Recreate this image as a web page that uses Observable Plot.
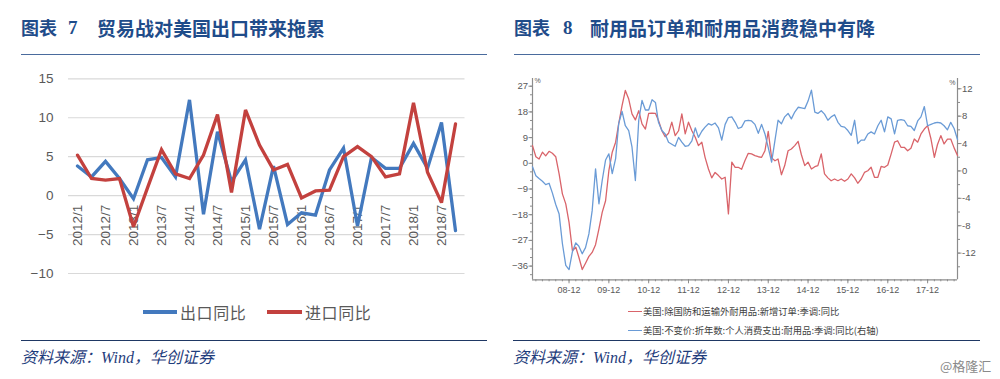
<!DOCTYPE html>
<html>
<head>
<meta charset="utf-8">
<script src="https://cdn.jsdelivr.net/npm/d3@7"></script>
<script src="https://cdn.jsdelivr.net/npm/@observablehq/plot@0.6"></script>
<style>
  body { margin: 0; background: #ffffff; }
  #page { position: relative; width: 1000px; height: 379px; overflow: hidden; background: #fff;
          font-family: "Noto Sans CJK SC", "Noto Sans", sans-serif; }
  .abs { position: absolute; white-space: nowrap; }
  .tfig { font-size: 18px; line-height: 1; font-weight: 700; color: #1f4c8a; }
  .tnum { font-family: "Liberation Serif", serif; font-size: 19px; line-height: 1; font-weight: 700; color: #1f4c8a; }
  .tmain { font-size: 19px; line-height: 1; font-weight: 700; color: #1f4c8a; }
  .trule { height: 1px; background: #4a6b9d; }
  .frule { height: 1px; background: #1f3864; }
  .foot { font-size: 16px; line-height: 20px; font-style: italic; color: #1f3d7c; }
  .foot .w { font-family: "Liberation Serif", serif; }
  .lgL { font-size: 16px; line-height: 20px; color: #595959; letter-spacing: 0.6px; }
  .lgR { font-size: 9.3px; line-height: 12px; color: #404040; }
  .wm { font-size: 13px; line-height: 16px; color: #8a8a8a; }
</style>
</head>
<body>
<div id="page">
  <!-- left panel header -->
  <div class="abs tfig" style="left:21px;top:18px">图表</div>
  <div class="abs tnum" style="left:68px;top:18px">7</div>
  <div class="abs tmain" style="left:97px;top:18px">贸易战对美国出口带来拖累</div>
  <div class="abs trule" style="left:21px;top:54px;width:466px"></div>
  <div id="leftChart" class="abs" style="left:0px;top:60px"></div>
  <div class="abs" style="left:143px;top:310px;width:34px;height:3.5px;background:#4379be"></div>
  <div class="abs lgL" style="left:180px;top:302px">出口同比</div>
  <div class="abs" style="left:267px;top:310px;width:35px;height:3.5px;background:#c3413e"></div>
  <div class="abs lgL" style="left:305px;top:302px">进口同比</div>
  <div class="abs frule" style="left:21px;top:340px;width:466px"></div>
  <div class="abs foot" style="left:21px;top:346px">资料来源：<span class="w">Wind</span>，华创证券</div>

  <!-- right panel header -->
  <div class="abs tfig" style="left:514px;top:18px">图表</div>
  <div class="abs tnum" style="left:563px;top:18px">8</div>
  <div class="abs tmain" style="left:590px;top:18px">耐用品订单和耐用品消费稳中有降</div>
  <div class="abs trule" style="left:514px;top:54px;width:466px"></div>
  <div id="rightChart" class="abs" style="left:500px;top:60px"></div>
  <div class="abs" style="left:628px;top:310.5px;width:14px;height:1.2px;background:#d9646a"></div>
  <div class="abs lgR" style="left:643px;top:305px">美国:除国防和运输外耐用品:新增订单:季调:同比</div>
  <div class="abs" style="left:628px;top:329.5px;width:14px;height:1.2px;background:#6a9bd6"></div>
  <div class="abs lgR" style="left:643px;top:324px">美国:不变价:折年数:个人消费支出:耐用品:季调:同比(右轴)</div>
  <div class="abs frule" style="left:513px;top:340px;width:467px"></div>
  <div class="abs foot" style="left:513px;top:346px">资料来源：<span class="w">Wind</span>，华创证券</div>
  <div class="abs wm" style="left:940px;top:358px">@格隆汇</div>
</div>
<script>
// ---------- Left chart data (quarterly, % annualized) ----------
const quarters = ["2012/1","2012/4","2012/7","2012/10","2013/1","2013/4","2013/7","2013/10",
  "2014/1","2014/4","2014/7","2014/10","2015/1","2015/4","2015/7","2015/10",
  "2016/1","2016/4","2016/7","2016/10","2017/1","2017/4","2017/7","2017/10",
  "2018/1","2018/4","2018/7","2018/10"];
const exportsYoY = [3.8, 2.4, 4.4, 2.2, -0.4, 4.6, 4.9, 2.4, 12.3, -2.4, 8.2, 1.8, 4.6, -4.3,
  3.8, -3.7, -2.2, -2.5, 3.3, 6.1, -3.9, 4.9, 3.5, 3.5, 6.7, 3.5, 9.4, -4.5];
const importsYoY = [5.2, 2.2, 2.0, 2.2, -4.0, 1.0, 5.9, 2.8, 2.2, 5.2, 10.4, 0.4, 11.0, 6.5,
  3.3, 4.0, -0.3, 0.6, 0.7, 5.0, 6.3, 5.0, 2.4, 2.8, 11.9, 3.0, -0.9, 9.2];
const leftXTickLabels = ["2012/1","2012/7","2013/1","2013/7","2014/1","2014/7","2015/1",
  "2015/7","2016/1","2016/7","2017/1","2017/7","2018/1","2018/7"];
const leftYTicks = [-10, -5, 0, 5, 10, 15];

// ---------- Right chart data (monthly from 2008-01) ----------
const rightStart = [2008, 0];
const ordersYoY = [6.2, 2.3, 1.5, 3.9, 2.6, 4.2, 3.5, 2.3, -3.7, -10.7, -14.2, -20.7,
  -30.6, -29.4, -32.9, -37.2, -35.0, -32.6, -31.2, -28.5, -23.0, -17.2, -13.1, -2.6,
  3.9, 7.4, 13.8, 20.2, 25.5, 22.5, 17.3, 15.2, 18.4, 13.8, 12.0, 17.5,
  17.6, 17.5, 15.0, 11.4, 9.3, 10.5, 14.4, 9.7, 11.4, 17.3, 10.3, 14.4,
  11.4, 9.1, 6.2, 7.4, 2.1, -2.0, -5.1, -3.2, -4.3, -5.5, -4.9, -17.7,
  0.4, -1.4, -1.4, -2.1, 0.9, 3.5, 3.3, 2.7, 2.3, 2.1, 4.4, 11.2,
  1.9, 0.9, 1.5, -4.0, -0.8, 4.4, 5.0, 6.2, 7.7, 3.0, -0.8, 0.4,
  -2.0, -1.2, -0.8, 3.3, -3.7, -5.1, -6.1, -5.5, -6.1, -5.5, -6.3, -5.5,
  -3.7, -5.1, -7.0, -5.5, -3.2, -2.6, -1.4, -4.9, -4.9, -1.1, -1.4, -0.6,
  3.3, 7.4, 7.9, 5.6, 5.6, 4.4, 5.3, 8.5, 7.4, 10.3, 12.0, 13.2,
  8.5, 2.1, 6.5, 9.7, 6.8, 8.5, 8.5, 5.4, 2.7];
const pceDurablesYoY = [0.6, -0.7, -1.1, -1.5, -2.0, -1.8, -3.2, -4.9, -6.3, -10.6, -13.8, -14.4,
  -11.8, -10.5, -11.0, -12.1, -11.2, -9.2, -5.8, 0.3, -4.8, -1.4, 1.6, 2.5,
  -0.4, 1.8, 6.9, 8.7, 6.6, 5.9, 3.5, -1.4, 7.4, 10.3, 8.9, 8.9,
  10.4, 10.0, 7.1, 5.9, 5.4, 4.2, 3.9, 3.6, 4.9, 4.2, 3.6, 3.7,
  4.4, 6.3, 4.9, 5.8, 6.4, 6.9, 6.7, 7.0, 6.3, 4.5, 6.8, 7.8,
  7.9, 7.1, 6.2, 6.4, 7.3, 7.4, 7.3, 6.8, 5.5, 6.8, 5.4, 3.4,
  1.3, 4.5, 7.4, 6.9, 7.9, 8.4, 7.6, 8.6, 9.3, 9.2, 9.1, 10.2,
  11.8, 8.6, 8.4, 8.8, 8.3, 7.4, 7.9, 8.2, 7.1, 6.5, 6.4, 5.9,
  5.2, 7.4, 4.0, 4.5, 4.5, 5.4, 5.7, 5.4, 6.6, 7.4, 5.7, 7.9,
  7.6, 5.4, 7.4, 7.5, 7.4, 6.6, 6.5, 5.9, 7.3, 7.9, 9.4, 6.6,
  6.8, 7.0, 7.1, 7.0, 6.6, 6.0, 7.1, 6.2, 4.6];
const rightXTickLabels = ["08-12","09-12","10-12","11-12","12-12","13-12","14-12","15-12","16-12","17-12"];
const rightLeftTicks = [-36, -27, -18, -9, 0, 9, 18, 27];
const rightRightTicks = [-12, -8, -4, 0, 4, 8, 12];
const leftAxisDomain = [-40.8, 29.7];
const rightAxisDomain = [-15.9, 13.5];

// ---------- Left chart ----------
const BLUE = "#4379be", RED = "#c3413e";
const leftRows = quarters.map((q, i) => ({q, exp: exportsYoY[i], imp: importsYoY[i]}));
const leftPlot = Plot.plot({
  width: 490, height: 230,
  marginLeft: 68, marginRight: 25.5, marginTop: 18.3, marginBottom: 17,
  style: {fontFamily: "'Liberation Sans', Arial, sans-serif", color: "#595959", background: "transparent", overflow: "visible"},
  x: {type: "point", domain: quarters, padding: 0, axis: null},
  y: {domain: [-10, 15], axis: null},
  marks: [
    Plot.gridY(leftYTicks, {stroke: "#d9d9d9", strokeOpacity: 1, strokeWidth: 1.2}),
    Plot.axisY(leftYTicks, {anchor: "left", tickSize: 0, tickPadding: 15, fontSize: 13.5, fill: "#595959", label: null}),
    Plot.text(leftXTickLabels, {x: d => d, y: () => 0, rotate: -90, textAnchor: "end", lineAnchor: "middle",
      dy: 9, fontSize: 13.5, fill: "#595959"}),
    Plot.lineY(leftRows, {x: "q", y: "exp", stroke: BLUE, strokeWidth: 3.3, strokeLinejoin: "miter", strokeMiterlimit: 3}),
    Plot.lineY(leftRows, {x: "q", y: "imp", stroke: RED, strokeWidth: 3.3, strokeLinejoin: "miter", strokeMiterlimit: 3})
  ]
});
document.getElementById("leftChart").appendChild(leftPlot);

// ---------- Right chart ----------
const R_RED = "#d9646a", R_BLUE = "#6a9bd6", AX = "#8c8c8c";
const [L0, L1] = leftAxisDomain, [R0, R1] = rightAxisDomain;
const toLeft = v => L0 + (v - R0) * (L1 - L0) / (R1 - R0);
const fromLeft = u => R0 + (u - L0) * (R1 - R0) / (L1 - L0);
const monthDate = i => new Date(Date.UTC(rightStart[0], rightStart[1] + i, 1));
const rightRows = ordersYoY.map((r, i) => ({date: monthDate(i), red: r, blue: pceDurablesYoY[i]}));
const xStart = rightRows[0].date, xEnd = rightRows[rightRows.length - 1].date;
const parseTick = d3.utcParse("%y-%m");
const xMajor = rightXTickLabels.map(parseTick);
const xMinor = d3.utcMonths(xStart, d3.utcMonth.offset(xEnd, 1)).filter(d => d.getUTCMonth() % 2 === 1);
const leftMinor = d3.range(-39, 29.7, 3);
const rightMinor = d3.range(-14, 13.5, 2).map(toLeft);

const rightPlot = Plot.plot({
  width: 500, height: 250,
  marginLeft: 32, marginRight: 43, marginTop: 18, marginBottom: 30.7,
  style: {fontFamily: "'Liberation Sans Narrow', 'Liberation Sans', Arial, sans-serif", color: "#595959", background: "transparent", overflow: "visible"},
  x: {type: "utc", domain: [xStart, xEnd], axis: null},
  y: {domain: leftAxisDomain, axis: null},
  marks: [
    Plot.ruleY([L0], {stroke: AX, strokeWidth: 1.2}),
    Plot.ruleX([xStart], {stroke: AX, strokeWidth: 1.2}),
    Plot.ruleX([xEnd], {stroke: AX, strokeWidth: 1.2}),
    Plot.axisY(leftMinor, {anchor: "left", tickSize: 2, fill: "none", stroke: AX}),
    Plot.axisY(rightLeftTicks, {anchor: "left", tickSize: 3.5, tickPadding: 1, fontSize: 9.5, fill: "#595959", stroke: AX, label: null}),
    Plot.axisY(rightMinor, {anchor: "right", tickSize: 2, fill: "none", stroke: AX}),
    Plot.axisY(rightRightTicks.map(toLeft), {anchor: "right", tickSize: 3.5, tickPadding: 1, fontSize: 9.5,
      fill: "#595959", stroke: AX, label: null, tickFormat: u => String(Math.round(fromLeft(u)))}),
    Plot.axisX(xMinor, {anchor: "bottom", tickSize: 2, fill: "none", stroke: AX}),
    Plot.axisX(xMajor, {anchor: "bottom", tickSize: 4, tickPadding: 3, fontSize: 9, fill: "#595959", stroke: AX,
      label: null, tickFormat: d3.utcFormat("%y-%m")}),
    Plot.text(["%"], {frameAnchor: "top-left", dx: 2, dy: 0, fontSize: 7, fill: "#595959"}),
    Plot.text(["%"], {frameAnchor: "top-right", dx: -2, dy: 2, fontSize: 7, fill: "#595959"}),
    Plot.lineY(rightRows, {x: "date", y: "red", stroke: R_RED, strokeWidth: 1.3}),
    Plot.lineY(rightRows, {x: "date", y: d => toLeft(d.blue), stroke: R_BLUE, strokeWidth: 1.3})
  ]
});
document.getElementById("rightChart").appendChild(rightPlot);
</script>
</body>
</html>
